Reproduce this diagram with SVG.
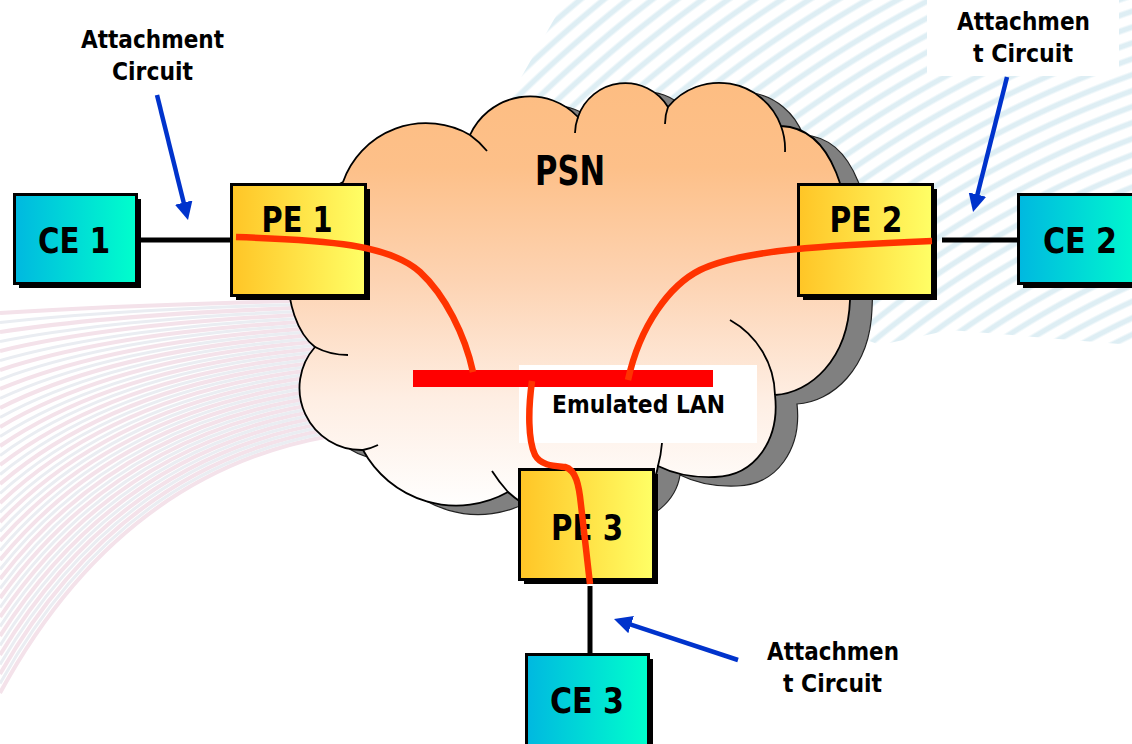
<svg xmlns="http://www.w3.org/2000/svg" width="1132" height="744" viewBox="0 0 1132 744">
<defs>
<style>
.lbl{font-family:"DejaVu Sans Condensed","DejaVu Sans",sans-serif;font-weight:bold;fill:#000;text-anchor:middle}
.big{font-size:36px}
.small{font-size:25px}
.box{stroke:#000;stroke-width:3}
.shd{fill:#000}
.wire{stroke:#000;stroke-width:5;fill:none}
.pw{stroke:#FF3300;stroke-width:6.5;fill:none;stroke-linecap:butt}
.ac{stroke:#0033CC;stroke-width:4.5;fill:none;marker-end:url(#ah)}
.tail{stroke:#000;stroke-width:1.8;fill:none}
</style>
<linearGradient id="ceG" x1="0" y1="0" x2="1" y2="0">
<stop offset="0" stop-color="#00B8E0"/><stop offset="1" stop-color="#00FFCC"/>
</linearGradient>
<linearGradient id="peG" x1="0" y1="0" x2="1" y2="0">
<stop offset="0" stop-color="#FFC526"/><stop offset="1" stop-color="#FFFF66"/>
</linearGradient>
<linearGradient id="cloudG" gradientUnits="userSpaceOnUse" x1="0" y1="82" x2="0" y2="510">
<stop offset="0" stop-color="#FDBD82"/><stop offset="0.2" stop-color="#FDC089"/><stop offset="0.46" stop-color="#FDD3B2"/><stop offset="0.74" stop-color="#FEEEE3"/><stop offset="1" stop-color="#FFFFFF"/>
</linearGradient>
<radialGradient id="blueStripes" gradientUnits="userSpaceOnUse" cx="1500" cy="1100" r="15" spreadMethod="repeat">
<stop offset="0" stop-color="#FFFFFF"/><stop offset="0.35" stop-color="#FFFFFF"/><stop offset="0.5" stop-color="#D8EBF2"/><stop offset="0.72" stop-color="#D8EBF2"/><stop offset="0.87" stop-color="#FFFFFF"/><stop offset="1" stop-color="#FFFFFF"/>
</radialGradient>
<marker id="ah" viewBox="0 0 10 10" refX="1" refY="5" markerWidth="4" markerHeight="4" orient="auto" markerUnits="strokeWidth">
<path d="M0,0 L10,5 L0,10 z" fill="#0033CC"/>
</marker>
<path id="cloudPath" d="M343,182 A88,88 0 0 1 470,135 A66,66 0 0 1 578,117 A50,50 0 0 1 668,107 A66,66 0 0 1 781,126 C830,128 856,190 850,300 C848,360 810,393 775,395 C780,440 755,476 715,477 C690,478 670,472 658,466 C650,520 560,540 508,492 A106,106 0 0 1 363,450 A62,62 0 0 1 315,347 C280,320 270,220 343,182 Z"/>
</defs>

<rect width="1132" height="744" fill="#FFFFFF"/>

<g id="background">
<path d="M480,150 L565,0 L1132,0 L1132,345 L950,330 L880,345 L840,330 L800,300 Z" fill="url(#blueStripes)" opacity="0.85"/>
<path fill="none" stroke="#F4E2EA" stroke-width="4" d="M0,313Q120,305 330,300M0,332Q120,313.4 330,306.8M0,351Q120,321.8 330,313.6M0,370Q120,330.2 330,320.4M0,389Q120,338.6 330,327.2M0,408Q120,347 330,334M0,427Q120,355.4 330,340.8M0,446Q120,363.8 330,347.6M0,465Q120,372.2 330,354.4M0,484Q120,380.6 330,361.2M0,503Q120,389 330,368M0,522Q120,397.4 330,374.8M0,541Q120,405.8 330,381.6M0,560Q120,414.2 330,388.4M0,579Q120,422.6 330,395.2M0,598Q120,431 330,402M0,617Q120,439.4 330,408.8M0,636Q120,447.8 330,415.6M0,655Q120,456.2 330,422.4M0,674Q120,464.6 330,429.2M0,693Q120,473 330,436"/>
<path fill="none" stroke="#EAEDF2" stroke-width="3" d="M0,322.5Q120,309.2 330,303.4M0,341.5Q120,317.6 330,310.2M0,360.5Q120,326 330,317M0,379.5Q120,334.4 330,323.8M0,398.5Q120,342.8 330,330.6M0,417.5Q120,351.2 330,337.4M0,436.5Q120,359.6 330,344.2M0,455.5Q120,368 330,351M0,474.5Q120,376.4 330,357.8M0,493.5Q120,384.8 330,364.6M0,512.5Q120,393.2 330,371.4M0,531.5Q120,401.6 330,378.2M0,550.5Q120,410 330,385M0,569.5Q120,418.4 330,391.8M0,588.5Q120,426.8 330,398.6M0,607.5Q120,435.2 330,405.4M0,626.5Q120,443.6 330,412.2M0,645.5Q120,452 330,419M0,664.5Q120,460.4 330,425.8M0,683.5Q120,468.8 330,432.6"/>
</g>

<g id="psn-cloud">
<use href="#cloudPath" transform="translate(22,9)" fill="#808080" stroke="#222" stroke-width="1.2"/>
<use href="#cloudPath" fill="url(#cloudG)" stroke="#000" stroke-width="1.8"/>
<path class="tail" d="M470,135 A88,88 0 0 1 487,151 M578,117 A50,50 0 0 0 575,133 M668,107 Q665,115 665,124 M781,126 A66,66 0 0 1 785,152 M730,320 A88,88 0 0 1 775,395 M658,466 Q661,455 662,443 M508,492 Q499,482 492,471 M363,450 A62,62 0 0 0 378,445 M315,347 Q330,355 348,355"/>
<text class="lbl" x="570" y="185" font-size="41" textLength="70" lengthAdjust="spacingAndGlyphs">PSN</text>
</g>

<g id="emulated-lan">
<rect x="519" y="365" width="238" height="78" fill="#FFFFFF"/>
<rect x="413" y="370" width="300" height="17" fill="#FF0000"/>
<text class="lbl small" x="638.5" y="413" textLength="173" lengthAdjust="spacingAndGlyphs">Emulated LAN</text>
</g>

<g id="ce1">
<rect class="shd" x="19" y="199" width="122" height="89"/>
<rect class="box" x="14.5" y="194.5" width="122" height="89" fill="url(#ceG)"/>
<text class="lbl big" x="74" y="253" textLength="72" lengthAdjust="spacingAndGlyphs">CE 1</text>
</g>
<g id="pe1">
<rect class="shd" x="236" y="189" width="134" height="111"/>
<rect class="box" x="231.5" y="184.5" width="134" height="111" fill="url(#peG)"/>
<text class="lbl big" x="297" y="232" textLength="71" lengthAdjust="spacingAndGlyphs">PE 1</text>
</g>
<g id="pe2">
<rect class="shd" x="803" y="189" width="134" height="111"/>
<rect class="box" x="798.5" y="184.5" width="134" height="111" fill="url(#peG)"/>
<text class="lbl big" x="866" y="232" textLength="73" lengthAdjust="spacingAndGlyphs">PE 2</text>
</g>
<g id="ce2">
<rect class="shd" x="1023" y="199" width="130" height="89"/>
<rect class="box" x="1018.5" y="194.5" width="130" height="89" fill="url(#ceG)"/>
<text class="lbl big" x="1080" y="253" textLength="74" lengthAdjust="spacingAndGlyphs">CE 2</text>
</g>
<g id="pe3">
<rect class="shd" x="524" y="474" width="134" height="110"/>
<rect class="box" x="519.5" y="469.5" width="134" height="110" fill="url(#peG)"/>
<text class="lbl big" x="587" y="540" textLength="72" lengthAdjust="spacingAndGlyphs">PE 3</text>
</g>
<g id="ce3">
<rect class="shd" x="531" y="659" width="122" height="100"/>
<rect class="box" x="526.5" y="654.5" width="122" height="100" fill="url(#ceG)"/>
<text class="lbl big" x="587" y="713" textLength="74" lengthAdjust="spacingAndGlyphs">CE 3</text>
</g>

<g id="connectors">
<line class="wire" x1="138" y1="240" x2="230" y2="240"/>
<line class="wire" x1="942" y1="240" x2="1017" y2="240"/>
<line class="wire" x1="590" y1="586" x2="590" y2="653"/>
<path class="pw" d="M236,237 C330,240 390,245 420,272 C445,295 465,335 473,372"/>
<path class="pw" d="M932,241 C830,245 740,250 700,270 C670,285 640,325 628,380"/>
<path class="pw" d="M532,381 C528,410 528,440 535,455 C541,466 555,466 565,467 C576,470 579,485 581,505 L590,584"/>
<line class="ac" x1="157" y1="95" x2="184.1" y2="204.3"/>
<line class="ac" x1="1007" y1="77" x2="977" y2="196.3"/>
<line class="ac" x1="738" y1="660" x2="629.4" y2="624.1"/>
</g>

<g id="label-ac1">
<text class="lbl small" x="152.5" y="48" textLength="143" lengthAdjust="spacingAndGlyphs">Attachment</text>
<text class="lbl small" x="152.5" y="80" textLength="81" lengthAdjust="spacingAndGlyphs">Circuit</text>
</g>
<g id="label-ac2">
<rect x="927" y="0" width="192" height="76" fill="#FFFFFF"/>
<text class="lbl small" x="1023.5" y="30" textLength="133" lengthAdjust="spacingAndGlyphs">Attachmen</text>
<text class="lbl small" x="1023" y="62" textLength="100" lengthAdjust="spacingAndGlyphs">t Circuit</text>
</g>
<g id="label-ac3">
<text class="lbl small" x="833" y="660" textLength="132" lengthAdjust="spacingAndGlyphs">Attachmen</text>
<text class="lbl small" x="832.5" y="692" textLength="99" lengthAdjust="spacingAndGlyphs">t Circuit</text>
</g>
</svg>
